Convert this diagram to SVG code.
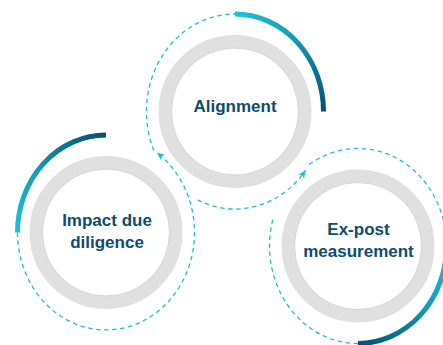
<svg xmlns="http://www.w3.org/2000/svg" width="443" height="345" viewBox="0 0 443 345">
  <style>
    .ring { fill: #ffffff; stroke: #e0e0e0; stroke-width: 13; }
    .ring-edge { fill: none; stroke: #cbcbcb; stroke-width: 0.8; }
    .lbl { font-family: "Liberation Sans", Arial, sans-serif; font-weight: 700; font-size: 17px; fill: #0e4d6b; text-anchor: middle; }
    .arc { fill: none; stroke-width: 5; stroke-linecap: butt; }
    .dash { fill: none; stroke: #2cb9d6; stroke-width: 1.3; stroke-dasharray: 4.5 3.5; }
  </style>
  <defs>
    <linearGradient id="gA" gradientUnits="userSpaceOnUse" x1="235" y1="14" x2="323.5" y2="111.5">
      <stop offset="0" stop-color="#1cc0d8"/>
      <stop offset="0.45" stop-color="#149ab6"/>
      <stop offset="1" stop-color="#065072"/>
    </linearGradient>
    <linearGradient id="gI" gradientUnits="userSpaceOnUse" x1="17.5" y1="232.5" x2="106" y2="135">
      <stop offset="0" stop-color="#1cc0d8"/>
      <stop offset="0.45" stop-color="#149ab6"/>
      <stop offset="1" stop-color="#065072"/>
    </linearGradient>
    <linearGradient id="gE" gradientUnits="userSpaceOnUse" x1="446.5" y1="246" x2="358" y2="343.5">
      <stop offset="0" stop-color="#1cc0d8"/>
      <stop offset="0.45" stop-color="#149ab6"/>
      <stop offset="1" stop-color="#065072"/>
    </linearGradient>
    <marker id="arr" markerUnits="userSpaceOnUse" viewBox="0 0 8 8" markerWidth="8" markerHeight="8" refX="8" refY="4" orient="auto">
      <path d="M0,0.5 L8,4 L0,7.5 L2,4 Z" fill="#2cb9d6"/>
    </marker>
  </defs>

  <g id="node-alignment">
    <circle class="ring" cx="235" cy="111.5" r="70"/>
    <circle class="ring-edge" cx="235" cy="111.5" r="63.5"/>
    <path class="arc" stroke="url(#gA)" d="M235,14 A88.5,97.5 0 0 1 323.5,111.5"/>
    <text class="lbl" x="235" y="112">Alignment</text>
  </g>

  <g id="node-impact">
    <circle class="ring" cx="106" cy="232.5" r="70"/>
    <circle class="ring-edge" cx="106" cy="232.5" r="63.5"/>
    <path class="arc" stroke="url(#gI)" d="M17.5,232.5 A88.5,97.5 0 0 1 106,135"/>
    <text class="lbl" x="107" y="226">Impact due</text>
    <text class="lbl" x="107" y="248">diligence</text>
  </g>

  <g id="node-expost">
    <circle class="ring" cx="358" cy="246" r="70"/>
    <circle class="ring-edge" cx="358" cy="246" r="63.5"/>
    <path class="arc" stroke="url(#gE)" d="M446.5,246 A88.5,97.5 0 0 1 358,343.5"/>
    <text class="lbl" x="358.5" y="235">Ex-post</text>
    <text class="lbl" x="358.5" y="257">measurement</text>
  </g>

  <g id="connectors">
    <path class="dash" marker-end="url(#arr)" d="M17.5,232.5 A88.5,97.5 0 1 0 156.8,152.6"/>
    <path class="dash" d="M153.8,150.4 A88.5,97.5 0 0 1 235,14"/>
    <path class="dash" marker-end="url(#arr)" d="M197.6,199.9 A88.5,97.5 0 0 0 305.7,170.2"/>
    <path class="dash" d="M309.2,164.6 A88.5,97.5 0 0 1 446.5,246"/>
    <path class="dash" d="M358,343.5 A88.5,97.5 0 0 1 273.4,217.5"/>
  </g>
</svg>
